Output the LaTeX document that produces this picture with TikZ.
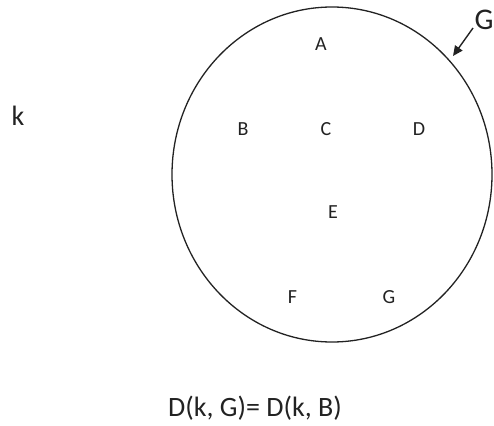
\documentclass[tikz,border=0pt]{standalone}
\usepackage{fontspec}
\setmainfont{Carlito}
\usetikzlibrary{arrows.meta,shapes.geometric}
\definecolor{ink}{HTML}{222222}
\tikzset{
  lbl/.style={inner sep=0pt, text=ink, font=\fontsize{20}{22}\selectfont, text height=12.8pt, text depth=0pt},
  biglbl/.style={inner sep=0pt, text=ink, font=\fontsize{28}{32}\selectfont, text height=18pt, text depth=0pt},
  ring/.style={draw=ink, line width=1.3pt},
  pointer/.style={draw=ink, line width=1.4pt, -{Triangle[length=10pt,width=9pt]}}
}
\begin{document}
\begin{tikzpicture}[x=1pt,y=-1pt]
\useasboundingbox (0,0) rectangle (494,425);
\node[ring, ellipse, minimum width=320pt, minimum height=335pt, inner sep=0pt] (set) at (332,174.5) {};
\node[lbl] (A) at (321,44) {A};
\node[lbl] (B) at (243,129) {B};
\node[lbl] (C) at (326,129) {C};
\node[lbl] (D) at (419,129) {D};
\node[lbl] (E) at (333,212.5) {E};
\node[lbl] (F) at (292.5,297) {F};
\node[lbl] (G) at (389,297) {G};
\node[biglbl, font=\fontsize{28}{30}\selectfont, text height=14pt] (k) at (18,118) {k};
\node[biglbl, font=\fontsize{30}{34}\selectfont, text height=19pt] (Glab) at (484,20) {G};
\coordinate (arrstart) at (473,28);
\coordinate (arrend) at (453,56);
\draw[pointer] (arrstart) -- (arrend);
\node[biglbl] (eq) at (255,407) {D(k, G)= D(k, B)};
\end{tikzpicture}
\end{document}
